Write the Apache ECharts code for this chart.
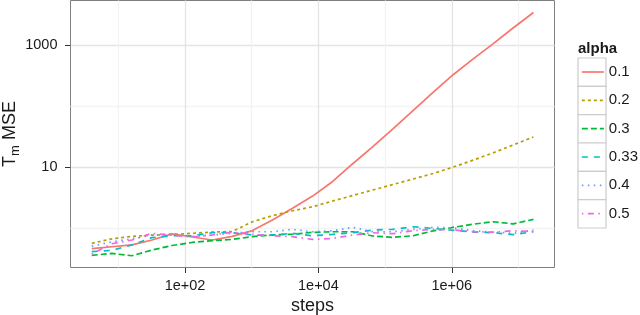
<!DOCTYPE html>
<html><head><meta charset="utf-8">
<script src="https://cdn.jsdelivr.net/npm/echarts@6/dist/echarts.min.js"></script>
<style>html,body{margin:0;padding:0;background:#fff}#c{width:640px;height:315px}</style>
</head><body><div id="c"></div>
<script>
// ---- data ----
const steps = [4, 8, 16, 32, 64, 128, 256, 512, 1024, 2048, 4096, 8192, 16384, 32768,
  65536, 131072, 262144, 524288, 1048576, 2097152, 4194304, 8388608, 16777216];
const alphaLevels = ['0.1', '0.2', '0.3', '0.33', '0.4', '0.5'];
const mse_a01 = [0.468, 0.501, 0.537, 0.646, 0.813, 0.724, 0.646, 0.741, 0.923, 1.38, 2.14, 3.39,
  5.89, 11.5, 21.9, 42.7, 85.1, 170, 331, 603, 1072, 1950, 3467];
const mse_a02 = [0.570, 0.676, 0.741, 0.776, 0.794, 0.832, 0.871, 0.891, 1.288, 1.622, 1.950, 2.265,
  2.818, 3.467, 4.266, 5.248, 6.457, 7.943, 10.12, 13.18, 17.38, 23.44, 31.62];
const mse_a03 = [0.363, 0.389, 0.357, 0.442, 0.525, 0.589, 0.631, 0.661, 0.733, 0.785, 0.804, 0.863,
  0.883, 0.883, 0.752, 0.714, 0.759, 0.912, 1.042, 1.175, 1.288, 1.189, 1.409];
const mse_a033 = [0.417, 0.437, 0.537, 0.708, 0.759, 0.759, 0.851, 0.851, 0.780, 0.780, 0.832, 0.759,
  0.800, 0.851, 0.942, 0.966, 1.067, 1.0, 0.933, 0.873, 0.851, 0.794, 0.885];
const mse_a04 = [0.513, 0.603, 0.676, 0.776, 0.813, 0.741, 0.780, 0.832, 0.883, 0.883, 0.966, 0.883,
  0.918, 1.042, 0.883, 0.883, 0.966, 1.042, 1.023, 0.918, 0.871, 0.832, 0.942];
const mse_a05 = [0.380, 0.562, 0.646, 0.832, 0.776, 0.724, 0.780, 0.871, 0.800, 0.759, 0.733, 0.661,
  0.687, 0.780, 0.851, 0.820, 0.918, 0.966, 0.942, 0.885, 0.871, 0.918, 0.885];
const xTickValues = [1e2, 1e4, 1e6];
const xTickLabels = ['1e+02', '1e+04', '1e+06'];
const xMinorValues = [1e1, 1e3, 1e5, 1e7];
const yTickValues = [10, 1000];
const yTickLabels = ['10', '1000'];
const yMinorValues = [1, 100];
// ---- style ----
const seriesValues = [mse_a01, mse_a02, mse_a03, mse_a033, mse_a04, mse_a05];
const colors = ['#F8766D', '#B79F00', '#00BA38', '#00BFC4', '#619CFF', '#F564E3'];
const dashes = ['solid', [3, 3], [6, 3], [6, 6], [1.5, 4.5], [1.5, 4.5, 6, 4.5]];
const FONT = 'Liberation Sans, Arial, Helvetica, sans-serif';
const TXT = '#1a1a1a';
const LW = 1.7;
const X_MIN = 1.92, X_MAX = 3.47e7, Y_MIN = 0.229, Y_MAX = 5450;

function lab(vals, labels) {
  return v => {
    const i = vals.findIndex(t => Math.abs(Math.log10(t) - Math.log10(v)) < 1e-6);
    return i >= 0 ? labels[i] : '';
  };
}

const chart = echarts.init(document.getElementById('c'), null, {renderer: 'canvas'});
const option = {
  animation: false,
  backgroundColor: '#fff',
  textStyle: {fontFamily: FONT},
  grid: {left: 70.5, right: 85.5, top: 0.5, bottom: 47.5, show: true, containLabel: false,
    outerBoundsMode: 'none',
    borderColor: '#7f7f7f', borderWidth: 1, backgroundColor: '#fff'},
  xAxis: [
    {type: 'log', logBase: 10, min: X_MIN, max: X_MAX,
      name: 'steps', nameLocation: 'middle', nameGap: 30, nameMoveOverlap: false,
      nameTextStyle: {fontSize: 18, color: TXT, fontFamily: FONT},
      axisLine: {show: false},
      axisTick: {show: true, customValues: xTickValues, length: 5.5, lineStyle: {color: '#333', width: 1}},
      axisLabel: {customValues: xTickValues, formatter: lab(xTickValues, xTickLabels),
        margin: 11, fontSize: 14.5, color: TXT, fontFamily: FONT},
      splitLine: {show: true, lineStyle: {color: '#e4e4e4', width: 1.3}},
      minorSplitLine: {show: false}},
    {type: 'log', logBase: 10, min: X_MIN, max: X_MAX, position: 'bottom',
      axisLine: {show: false},
      axisTick: {show: false, customValues: xMinorValues},
      axisLabel: {show: false, customValues: xMinorValues},
      splitLine: {show: true, lineStyle: {color: '#f3f3f3', width: 1.3}}}
  ],
  yAxis: [
    {type: 'log', logBase: 10, min: Y_MIN, max: Y_MAX,
      name: '{t|T}{s|m}{t| MSE}', nameLocation: 'middle', nameGap: 48.5, nameMoveOverlap: false,
      nameTextStyle: {color: TXT, fontFamily: FONT, rich: {
        t: {fontSize: 18, lineHeight: 24, color: TXT, fontFamily: FONT},
        s: {fontSize: 13, verticalAlign: 'bottom', color: TXT, fontFamily: FONT}}},
      axisLine: {show: false},
      axisTick: {show: true, customValues: yTickValues, length: 5.5, lineStyle: {color: '#333', width: 1}},
      axisLabel: {customValues: yTickValues, formatter: lab(yTickValues, yTickLabels),
        margin: 13, fontSize: 14.5, color: TXT, fontFamily: FONT},
      splitLine: {show: true, lineStyle: {color: '#e4e4e4', width: 1.3}},
      minorSplitLine: {show: false}},
    {type: 'log', logBase: 10, min: Y_MIN, max: Y_MAX, position: 'left',
      axisLine: {show: false},
      axisTick: {show: false, customValues: yMinorValues},
      axisLabel: {show: false, customValues: yMinorValues},
      splitLine: {show: true, lineStyle: {color: '#f3f3f3', width: 1.3}}}
  ],
  title: {text: 'alpha', left: 578, top: 41, padding: 0,
    textStyle: {fontSize: 15, fontWeight: 'bold', color: TXT, fontFamily: FONT}},
  legend: {orient: 'vertical', left: 581, top: 64, padding: 0, itemGap: 12.33,
    itemWidth: 22, itemHeight: 20, selectedMode: false,
    data: alphaLevels,
    itemStyle: {opacity: 0},
    lineStyle: {width: LW},
    textStyle: {fontSize: 15, color: TXT, fontFamily: FONT}},
  graphic: alphaLevels.map((a, i) => ({
    type: 'rect', z: 0,
    shape: {x: 578, y: 58 + i * 28.33, width: 28, height: 28.33},
    style: {fill: '#fff', stroke: '#cccccc', lineWidth: 1.2}
  })),
  series: alphaLevels.map((a, i) => ({
    name: a, type: 'line', xAxisIndex: 0, yAxisIndex: 0,
    data: steps.map((s, j) => [s, seriesValues[i][j]]),
    symbol: 'none', showSymbol: false, smooth: false,
    color: colors[i],
    lineStyle: {color: colors[i], width: LW, type: dashes[i]}
  }))
};
chart.setOption(option);
</script></body></html>
